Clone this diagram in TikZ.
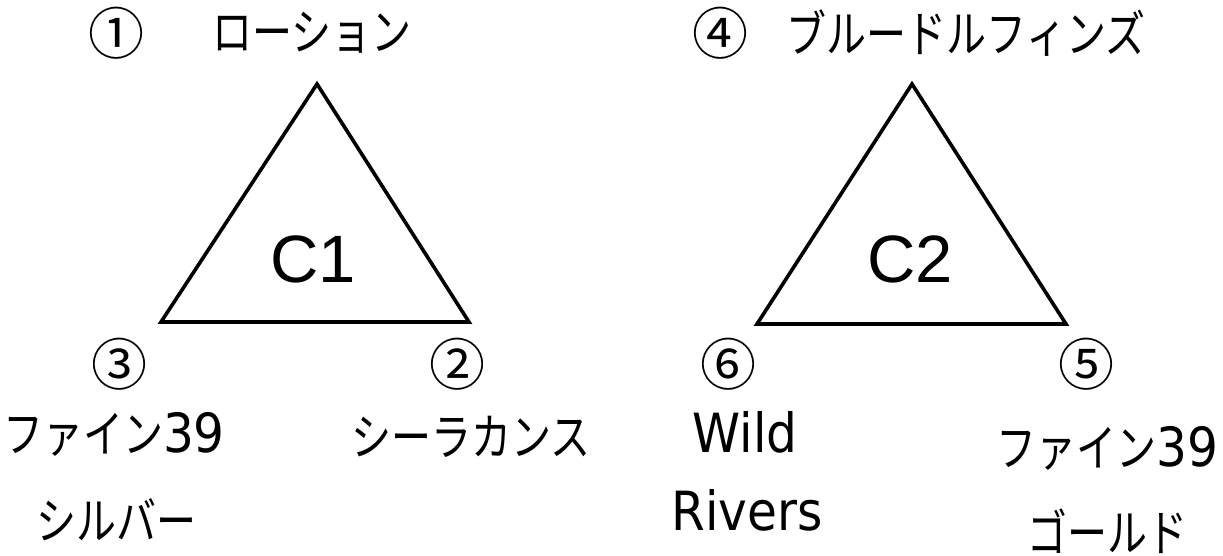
\documentclass[tikz,border=0pt]{standalone}
\usepackage{fontspec}
\setmainfont{DejaVu Sans}
\newfontfamily\arial{Liberation Sans}
\newfontfamily\jp{Noto Sans CJK JP}
\newcommand{\kata}[1]{\scalebox{0.8}[1]{\fontsize{50}{54}\selectfont\jp #1}}
\newcommand{\latn}[1]{\scalebox{0.9}[1]{\fontsize{54}{58}\selectfont\rmfamily #1}}
\begin{document}
\begin{tikzpicture}[x=1pt,y=-1pt]
\tikzset{
  tri/.style={draw=black,line width=3.6pt,line join=miter},
  lbl/.style={inner sep=0pt,anchor=center},
  bas/.style={inner sep=0pt,anchor=base},
  num/.style={font=\fontsize{56}{60}\selectfont\jp,inner sep=0pt,anchor=center},
  big/.style={font=\fontsize{67}{72}\selectfont\arial,inner sep=0pt,anchor=center}
}
\useasboundingbox (0,0) rectangle (1223,555);
\coordinate (a1) at (317,84);
\coordinate (b1) at (161,322);
\coordinate (c1) at (469,322);
\draw[tri] (a1) -- (b1) -- (c1) -- cycle;
\coordinate (a2) at (912,84);
\coordinate (b2) at (757,324);
\coordinate (c2) at (1066,324);
\draw[tri] (a2) -- (b2) -- (c2) -- cycle;
\node[big] (t1) at (313,259) {C1};
\node[big] (t2) at (910,259) {C2};
\node[num] (n1) at (116,33) {①};
\node[lbl] (l1) at (312,33) {\kata{ローション}};
\node[num] (n3) at (119,364) {③};
\node[num] (n2) at (457,364) {②};
\node[bas] (l3a) at (114,452) {\kata{ファイン}\latn{39}};
\node[lbl] (l3b) at (116,520) {\kata{シルバー}};
\node[lbl] (l2) at (471,437) {\kata{シーラカンス}};
\node[num] (n4) at (720,33) {④};
\node[lbl] (l4) at (966,33) {\kata{ブルードルフィンズ}};
\node[num] (n6) at (728,364) {⑥};
\node[num] (n5) at (1086,364) {⑤};
\node[bas] (l6a) at (745,452) {\latn{Wild}};
\node[bas] (l6b) at (747,530) {\latn{Rivers}};
\node[bas] (l5a) at (1107,466) {\kata{ファイン}\latn{39}};
\node[lbl] (l5b) at (1107,531) {\kata{ゴールド}};
\end{tikzpicture}
\end{document}
